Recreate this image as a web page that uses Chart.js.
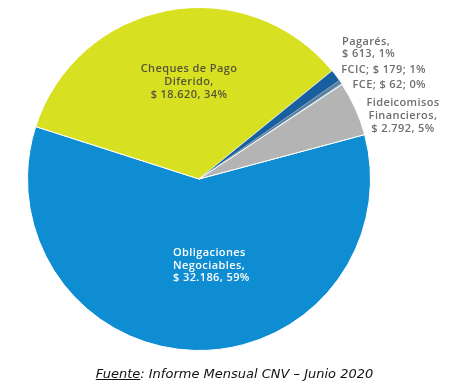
<!DOCTYPE html>
<html><head><meta charset="utf-8">
<script src="https://cdn.jsdelivr.net/npm/chart.js@4"></script>
<style>
html,body{margin:0;padding:0;background:#fff;}
#wrap{position:relative;width:465px;height:383px;overflow:hidden;}
#c{position:absolute;left:0;top:0;}
#cap{position:absolute;left:0;width:465px;top:366px;text-align:center;font:italic 13px "DejaVu Sans",Verdana,sans-serif;color:#111;white-space:nowrap;padding-left:2px;}
</style></head><body>
<div id="wrap"><canvas id="c" width="465" height="383"></canvas>
<div id="cap"><u>Fuente</u>: Informe Mensual CNV – Junio 2020</div></div>
<script>
const categories = ['Obligaciones Negociables', 'Cheques de Pago Diferido', 'Pagarés', 'FCIC', 'FCE', 'Fideicomisos Financieros'];
const values = [32186, 18620, 613, 179, 62, 2792];
const valueLabels = ['$ 32.186', '$ 18.620', '$ 613', '$ 179', '$ 62', '$ 2.792'];
const percentLabels = ['59%', '34%', '1%', '1%', '0%', '5%'];
const labelLines = [
  ['Obligaciones', 'Negociables,', valueLabels[0] + ', ' + percentLabels[0]],
  ['Cheques de Pago', 'Diferido,', valueLabels[1] + ', ' + percentLabels[1]],
  ['Pagarés,', valueLabels[2] + ', ' + percentLabels[2]],
  [categories[3] + '; ' + valueLabels[3] + '; ' + percentLabels[3]],
  [categories[4] + '; ' + valueLabels[4] + '; ' + percentLabels[4]],
  ['Fideicomisos', 'Financieros,', valueLabels[5] + ', ' + percentLabels[5]]
];

const colors = ['#0f8dd3', '#d8e022', '#175f9e', '#5d7f9c', '#7ec3e6', '#b4b4b4'];
const labelStyle = [
  {dx: -26, dy: 74, align: 'left', color: '#ffffff', lh: 12.5},
  {dx: -10, dy: -110, align: 'center', color: '#55553a', lh: 13},
  {dx: 143, dy: -137, align: 'left', color: '#6e6e6e', lh: 12},
  {dx: 227, dy: -109, align: 'right', color: '#6e6e6e', lh: 13},
  {dx: 227, dy: -94, align: 'right', color: '#6e6e6e', lh: 13},
  {dx: 204, dy: -76, align: 'center', color: '#6e6e6e', lh: 13}
];

const labelPlugin = {
  id: 'sliceLabels',
  afterDraw(chart) {
    const ctx = chart.ctx;
    const arcs = chart.getDatasetMeta(0).data;
    ctx.save();
    ctx.font = '600 11px "Open Sans", sans-serif';
    ctx.letterSpacing = '0.4px';
    ctx.textBaseline = 'middle';
    arcs.forEach((arc, i) => {
      const {x, y} = arc.getProps(['x', 'y'], true);
      const s = labelStyle[i];
      ctx.fillStyle = s.color;
      ctx.textAlign = s.align;
      labelLines[i].forEach((line, j) => {
        ctx.fillText(line, x + s.dx, y + s.dy + j * s.lh);
      });
    });
    ctx.restore();
  }
};

new Chart(document.getElementById('c'), {
  type: 'pie',
  data: {
    labels: categories,
    datasets: [{
      data: values,
      backgroundColor: colors,
      borderColor: '#ffffff',
      borderWidth: [1, 1, 0.5, 0, 0, 1]
    }]
  },
  options: {
    responsive: false,
    animation: false,
    rotation: 75,
    layout: {padding: {left: 27, right: 94, top: 7, bottom: 32}},
    plugins: {legend: {display: false}, tooltip: {enabled: false}}
  },
  plugins: [labelPlugin]
});
</script>
</body></html>
